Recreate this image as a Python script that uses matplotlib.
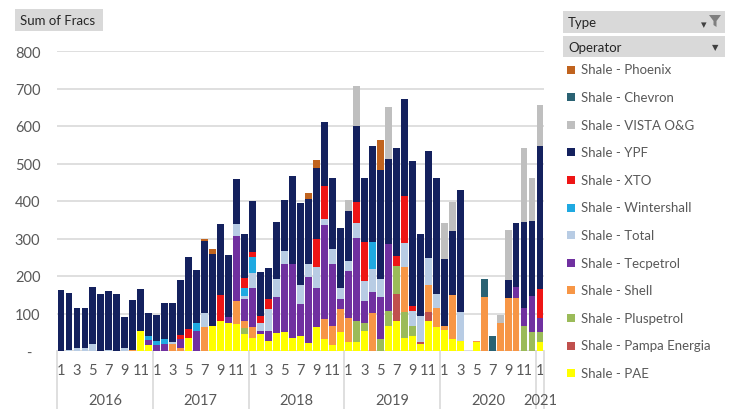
import numpy as np
import matplotlib
matplotlib.use("Agg")
import matplotlib.pyplot as plt
from matplotlib.patches import Rectangle, Polygon

plt.rcParams['font.family'] = ['Lato', 'DejaVu Sans']

# monthly fracs, Jan 2016 .. Jan 2021 (61 months)
years = ["2016", "2017", "2018", "2019", "2020", "2021"]
months_per_year = [12, 12, 12, 12, 12, 1]

PAE = [0, 0, 0, 0, 0, 0, 0, 0, 0, 0, 54, 15,
       0, 0, 0, 0, 34, 0, 0, 66, 81, 76, 72, 45,
       36, 45, 27, 48, 51, 36, 40, 22, 63, 32, 16, 50,
       25, 23, 54, 0, 0, 67, 80, 36, 41, 18, 80, 63,
       57, 32, 27, 0, 24, 0, 0, 0, 0, 0, 0, 0,
       25]
pampa = [0, 0, 0, 0, 0, 0, 0, 0, 0, 0, 0, 0,
         0, 0, 0, 0, 0, 0, 0, 0, 0, 0, 0, 0,
         0, 0, 0, 0, 0, 0, 0, 0, 0, 0, 0, 0,
         0, 0, 0, 0, 0, 0, 72, 0, 0, 5, 25, 0,
         0, 0, 0, 0, 0, 0, 0, 0, 0, 0, 0, 0,
         0]
pluspetrol = [0, 0, 0, 0, 0, 0, 0, 0, 0, 0, 0, 0,
              0, 0, 0, 0, 0, 0, 0, 0, 0, 0, 0, 17,
              0, 0, 0, 0, 0, 0, 0, 0, 0, 0, 0, 0,
              0, 57, 20, 0, 32, 40, 75, 67, 26, 0, 0, 0,
              0, 0, 0, 0, 0, 0, 0, 0, 0, 0, 67, 52,
              27]
shell = [0, 0, 0, 0, 0, 0, 0, 0, 0, 3, 0, 0,
         0, 0, 20, 8, 0, 0, 63, 0, 0, 0, 62, 19,
         27, 0, 0, 0, 0, 0, 0, 0, 0, 53, 51, 62,
         64, 0, 0, 101, 0, 0, 0, 120, 0, 0, 71, 53,
         10, 118, 0, 0, 4, 145, 0, 76, 141, 142, 0, 0,
         0]
tecpetrol = [0, 0, 0, 0, 0, 0, 0, 0, 0, 0, 0, 15,
             15, 20, 0, 23, 0, 54, 0, 0, 0, 14, 174, 57,
             106, 9, 27, 96, 180, 195, 85, 175, 106, 250, 164, 28,
             124, 222, 60, 57, 111, 178, 0, 0, 0, 0, 0, 0,
             0, 0, 0, 0, 0, 0, 0, 0, 0, 30, 49, 95,
             37]
total = [0, 3, 8, 8, 20, 0, 2, 0, 8, 0, 0, 0,
         0, 0, 3, 0, 0, 0, 38, 0, 0, 0, 30, 9,
         40, 22, 58, 47, 36, 0, 50, 34, 54, 16, 42, 28,
         27, 40, 53, 62, 48, 0, 0, 66, 40, 70, 73, 36,
         0, 0, 78, 0, 0, 0, 0, 0, 0, 0, 0, 0,
         0]
wintershall = [0, 0, 0, 0, 0, 0, 0, 0, 0, 0, 0, 10,
               12, 13, 0, 0, 0, 22, 0, 0, 0, 0, 0, 22,
               42, 0, 0, 0, 0, 0, 0, 0, 0, 0, 0, 0,
               0, 0, 0, 71, 0, 0, 0, 0, 0, 0, 0, 0,
               0, 0, 0, 0, 0, 0, 0, 0, 0, 0, 0, 0,
               0]
xto = [0, 0, 0, 0, 0, 0, 0, 0, 0, 0, 0, 0,
       0, 0, 0, 13, 25, 0, 0, 0, 68, 0, 0, 25,
       13, 18, 26, 0, 0, 0, 0, 0, 75, 89, 0, 0,
       0, 55, 105, 0, 0, 0, 26, 124, 13, 0, 0, 0,
       0, 0, 0, 0, 0, 0, 0, 0, 0, 0, 0, 0,
       76]
ypf = [163, 152, 106, 106, 150, 152, 158, 152, 84, 133, 111, 61,
       70, 94, 104, 145, 192, 139, 192, 192, 189, 165, 121, 118,
       136, 118, 83, 154, 135, 235, 221, 175, 190, 170, 189, 161,
       133, 202, 170, 257, 293, 226, 289, 259, 386, 218, 284, 310,
       179, 169, 324, 0, 0, 0, 0, 0, 48, 170, 228, 201,
       381]
vista = [0, 0, 0, 0, 0, 0, 0, 0, 0, 0, 0, 0,
         0, 0, 0, 0, 0, 0, 0, 0, 0, 0, 0, 0,
         0, 0, 0, 0, 0, 0, 0, 0, 0, 0, 0, 0,
         29, 109, 0, 0, 0, 141, 0, 0, 0, 0, 0, 0,
         95, 79, 0, 0, 0, 0, 0, 20, 133, 0, 198, 114,
         111]
chevron = [0, 0, 0, 0, 0, 0, 0, 0, 0, 0, 0, 0,
           0, 0, 0, 0, 0, 0, 0, 0, 0, 0, 0, 0,
           0, 0, 0, 0, 0, 0, 0, 0, 0, 0, 0, 0,
           0, 0, 0, 0, 0, 0, 0, 0, 0, 0, 0, 0,
           0, 0, 0, 0, 0, 46, 41, 0, 0, 0, 0, 0,
           0]
phoenix = [0, 0, 0, 0, 0, 0, 0, 0, 0, 0, 0, 0,
           0, 0, 0, 0, 0, 0, 7, 15, 0, 0, 0, 0,
           0, 0, 0, 0, 0, 0, 0, 16, 21, 0, 0, 0,
           0, 0, 0, 0, 78, 0, 0, 0, 0, 0, 0, 0,
           0, 0, 0, 0, 0, 0, 0, 0, 0, 0, 0, 0,
           0]

# stacking order, bottom to top
series = [
    ("Shale - PAE", PAE, "#FFFF00"),
    ("Shale - Pampa Energia", pampa, "#C0504D"),
    ("Shale - Pluspetrol", pluspetrol, "#9BBB59"),
    ("Shale - Shell", shell, "#F79646"),
    ("Shale - Tecpetrol", tecpetrol, "#7030A0"),
    ("Shale - Total", total, "#B8CCE4"),
    ("Shale - Wintershall", wintershall, "#1FA9E1"),
    ("Shale - XTO", xto, "#EE1515"),
    ("Shale - YPF", ypf, "#14215E"),
    ("Shale - VISTA O&G", vista, "#BFBFBF"),
    ("Shale - Chevron", chevron, "#2A6273"),
    ("Shale - Phoenix", phoenix, "#C0631E"),
]

W, H = 730, 410
fig = plt.figure(figsize=(W / 100, H / 100), dpi=100)
ax = fig.add_axes([57 / W, 1 - 352 / H, 487 / W, 300 / H])

n = len(ypf)
x = np.arange(n)
bottom = np.zeros(n)
for name, vals, col in series:
    vals = np.array(vals, dtype=float)
    ax.bar(x, vals, bottom=bottom, width=0.86, color=col, linewidth=0, zorder=3)
    bottom += vals

ax.set_xlim(-0.5, n - 0.5)
ax.set_ylim(0, 800)
ax.set_yticks(range(0, 801, 100))
ax.set_yticklabels(["-  "] + [str(v) for v in range(100, 801, 100)])
ax.grid(axis="y", color="#D9D9D9", linewidth=1.2, zorder=0)
for s in ax.spines.values():
    s.set_visible(False)
ax.axhline(0, color="#D9D9D9", linewidth=1.2, zorder=1)
ax.tick_params(axis="y", length=0, pad=12, labelsize=10.5, labelcolor="#595959")

# month labels (odd months only) and year labels
month_pos, month_lab = [], []
start = 0
for y, m in zip(years, months_per_year):
    for k in range(0, m, 2):
        month_pos.append(start + k)
        month_lab.append(str(k + 1))
    start += m
ax.set_xticks(month_pos)
ax.set_xticklabels(month_lab)
ax.tick_params(axis="x", length=0, pad=9, labelsize=10.5, labelcolor="#595959")

trans = ax.get_xaxis_transform()
start = 0
for y, m in zip(years, months_per_year):
    ax.text(start + m / 2 - 0.5, -0.165, y, transform=trans, ha="center", va="center",
            fontsize=10.5, color="#595959", clip_on=False)
    start += m
bounds = np.cumsum([0] + months_per_year) - 0.5
for b in bounds:
    ax.plot([b, b], [0, -0.2], transform=trans, color="#D9D9D9", linewidth=1.2, clip_on=False)


def box(x0, y0, w, h, fc):
    fig.patches.append(Rectangle((x0 / W, 1 - (y0 + h) / H), w / W, h / H,
                                 transform=fig.transFigure, facecolor=fc, edgecolor="none"))


# "Sum of Fracs" field button
box(15, 10, 88, 22, "#D9D9D9")
fig.text(20 / W, 1 - 21 / H, "Sum of Fracs", fontsize=9.5, color="#262626", va="center")

# field headers of the legend
box(563, 12, 162, 22, "#D9D9D9")
fig.text(568 / W, 1 - 23 / H, "Type", fontsize=9.5, color="#262626", va="center")
fig.text(701 / W, 1 - 25 / H, "▾", fontsize=8, color="#404040", va="center")
fig.patches.append(Polygon([((709) / W, 1 - 16 / H), (721 / W, 1 - 16 / H), (716.5 / W, 1 - 22 / H),
                            (716.5 / W, 1 - 28 / H), (713.5 / W, 1 - 26 / H), (713.5 / W, 1 - 22 / H)],
                           closed=True, transform=fig.transFigure, facecolor="#7F7F7F", edgecolor="none"))
box(563, 37, 162, 21, "#D9D9D9")
fig.text(568 / W, 1 - 47.5 / H, "Operator", fontsize=9.5, color="#262626", va="center")
fig.text(712 / W, 1 - 47.5 / H, "▼", fontsize=6, color="#404040", va="center")

# legend entries, top to bottom
for i, (name, vals, col) in enumerate(series[::-1]):
    yc = 70.5 + 27.6 * i
    box(567, yc - 4, 8, 8, col)
    fig.text(581 / W, 1 - yc / H, name, fontsize=9.5, color="#595959", va="center")

fig.savefig("out.png", dpi=100)
